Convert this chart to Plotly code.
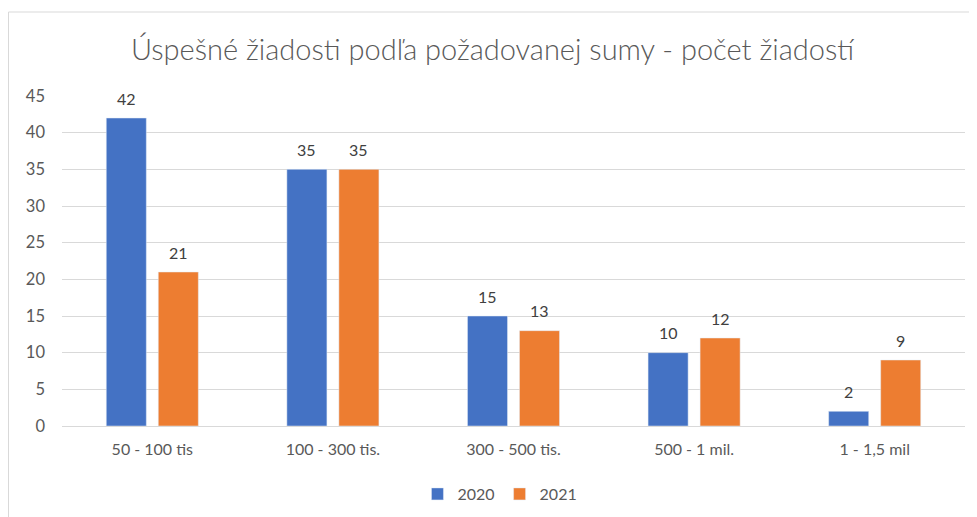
import plotly.graph_objects as go

categories = ["50 - 100 tis", "100 - 300 tis.", "300 - 500 tis.", "500 - 1 mil.", "1 - 1,5 mil"]
values_2020 = [42, 35, 15, 10, 2]
values_2021 = [21, 35, 13, 12, 9]
series_names = ["2020", "2021"]
colors = ["#4472C4", "#ED7D31"]

FONT = "Lato, 'Open Sans', sans-serif"

W, H = 969, 509
L, R, T, B = 54, 12, 88, 91
PW, PH = W - L - R, H - T - B

fig = go.Figure()
annotations = []
for i, (name, vals) in enumerate([(series_names[0], values_2020), (series_names[1], values_2021)]):
    fig.add_trace(go.Bar(x=categories, y=vals, name=name, marker_color=colors[i]))
    for c, v in zip(categories, vals):
        annotations.append(dict(x=c, y=v, xref="x", yref="y", text=str(v), showarrow=False,
                                xshift=-26 if i == 0 else 26, yshift=20, yanchor="middle",
                                font=dict(size=16, color="#404040")))

fig.update_layout(
    width=W, height=H,
    margin=dict(l=L, r=R, t=T, b=B, autoexpand=False),
    paper_bgcolor="white", plot_bgcolor="white",
    font=dict(family=FONT, color="#595959", size=16),
    title=dict(text="Úspešné žiadosti podľa požadovanej sumy - počet žiadostí",
               x=0.5, xanchor="center", y=1 - 42/H, yanchor="middle",
               font=dict(size=29, color="#595959", family=FONT, weight=300)),
    barmode="group", bargap=0.424, bargroupgap=0.23,
    showlegend=True,
    legend=dict(orientation="h", x=0.485, xanchor="center", y=-(494 - 8 - (T + PH)) / PH, yanchor="middle",
                font=dict(size=16, color="#595959"), itemwidth=30, traceorder="normal"),
    xaxis=dict(showgrid=False, showline=True, linecolor="#D9D9D9", ticks="",
               ticklabelstandoff=9, tickfont=dict(size=16, color="#595959")),
    yaxis=dict(range=[0, 45], dtick=5, showgrid=True, gridcolor="#D9D9D9", gridwidth=1,
               zeroline=False, showline=False, ticks="", ticklabelstandoff=16,
               tickfont=dict(size=16.5, color="#595959")),
    annotations=annotations,
    shapes=[dict(type="rect", xref="paper", yref="paper",
                 x0=(0.5 - L) / PW, x1=(W + 20 - L) / PW, y0=-(H + 20 - T - PH) / PH, y1=(T + PH - 4) / PH,
                 line=dict(color="#D9D9D9", width=1), fillcolor="rgba(0,0,0,0)", layer="below")],
)

fig.write_html("out.html")
